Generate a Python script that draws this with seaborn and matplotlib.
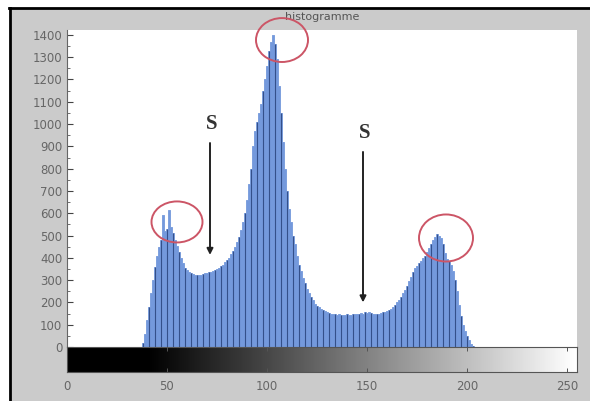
import numpy as np
import pandas as pd
import matplotlib
matplotlib.use("Agg")
import matplotlib.pyplot as plt
from matplotlib.patches import Ellipse, Rectangle
from matplotlib.lines import Line2D
import seaborn as sns

# ---- data ----
levels = list(range(38, 204))
counts = [
    20, 60, 120, 180, 240, 300, 360, 410, 450, 480,          # 38-47
    590, 520, 530, 615, 540, 510, 480, 455, 425, 400,        # 48-57
    375, 355, 345, 335, 330, 328, 325, 325, 322, 325,        # 58-67
    328, 330, 332, 335, 338, 342, 345, 350, 355, 362,        # 68-77
    370, 380, 390, 400, 415, 430, 450, 470, 495, 525,        # 78-87
    560, 600, 660, 730, 800, 900, 970, 1010, 1050, 1090,     # 88-97
    1150, 1200, 1260, 1330, 1370, 1400, 1360, 1290, 1170, 1050,  # 98-107
    920, 800, 700, 620, 560, 500, 460, 410, 370, 340,        # 108-117
    310, 285, 260, 240, 225, 210, 195, 185, 178, 170,        # 118-127
    165, 160, 155, 152, 150, 148, 146, 145, 146, 144,        # 128-137
    145, 142, 146, 144, 145, 148, 146, 150, 148, 152,        # 138-147
    150, 155, 153, 156, 152, 150, 148, 150, 148, 152,        # 148-157
    155, 158, 160, 165, 172, 180, 190, 200, 210, 225,        # 158-167
    240, 255, 275, 295, 315, 335, 355, 365, 378, 388,        # 168-177
    398, 410, 425, 445, 460, 478, 492, 505, 500, 488,        # 178-187
    460, 420, 395, 385, 370, 340, 300, 250, 190, 140,        # 188-197
    100, 70, 50, 30, 15, 5,                                  # 198-203
]
yticks = list(range(0, 1401, 100))
xticks = [0, 50, 100, 150, 200, 250]
title = "histogramme"
arrow_labels = ["S", "S"]
arrow_x = [71.5, 148]
arrow_top = [915, 875]
arrow_bottom = [413, 200]
circle_x = [55, 107.5, 189.5]
circle_y = [561, 1377, 489]

df = pd.DataFrame({"level": levels, "count": counts})

W, H = 590, 401
fig = plt.figure(figsize=(W / 100, H / 100), dpi=100)
fig.patch.set_facecolor("white")

# screenshot frame: gray panel with black top/left border
fig.patches.append(Rectangle((10 / W, 0), 1, 1 - 8 / H, transform=fig.transFigure,
                             facecolor="#cbcbcb", edgecolor="none", zorder=-10))
fig.lines.append(Line2D([9 / W, 1], [1 - 8 / H, 1 - 8 / H], transform=fig.transFigure,
                        color="black", lw=2))
fig.lines.append(Line2D([10 / W, 10 / W], [0, 1 - 8 / H], transform=fig.transFigure,
                        color="black", lw=2))

left, right = 67 / W, 577 / W
ax = fig.add_axes([left, 1 - 347 / H, right - left, (347 - 30) / H])
ax2 = fig.add_axes([left, 1 - 372 / H, right - left, 25 / H])

ax.set_facecolor("white")
sns.histplot(data=df, x="level", weights="count", discrete=True, ax=ax,
             element="step", fill=True, color="#7499dc", alpha=1.0,
             linewidth=0.6, edgecolor="#7499dc")
sub = df.iloc[::3]
ax.vlines(sub["level"], 0, sub["count"], color="#34508a", lw=0.8)

ax.set_xlim(0, 255)
ax.set_ylim(0, 1422)
ax.set_xlabel("")
ax.set_ylabel("")
ax.set_xticks([])
ax.set_yticks(yticks)
ax.set_yticks(np.arange(50, 1422, 100), minor=True)
ax.tick_params(axis="y", which="major", direction="in", length=4, width=0.8,
               colors="#444", labelcolor="#666", labelsize=8.5)
ax.tick_params(axis="y", which="minor", direction="in", length=2, width=0.6, colors="#555")
for s in ["top", "right", "bottom"]:
    ax.spines[s].set_visible(False)
ax.spines["left"].set_color("#666")
ax.spines["left"].set_linewidth(0.8)
ax.set_title(title, fontsize=8, color="#555", pad=7)

# arrows with S labels
for lbl, x, yt, yb in zip(arrow_labels, arrow_x, arrow_top, arrow_bottom):
    ax.annotate("", xy=(x, yb), xytext=(x, yt),
                arrowprops=dict(arrowstyle="-|>", color="#222", lw=1.4,
                                mutation_scale=9, shrinkA=0, shrinkB=0))
    ax.text(x + 0.8, yt + 40, lbl, ha="center", va="bottom", fontsize=15,
            family="Liberation Serif", fontweight="bold", color="#333")

# red ellipses
for cx, cy, w, h in zip(circle_x, circle_y, [25.5, 26, 27], [184, 197, 211]):
    e = Ellipse((cx, cy), w, h, facecolor="none", edgecolor="#cc5566", lw=1.4,
                clip_on=False, zorder=5)
    ax.add_patch(e)

# gradient bar
grad = np.arange(256)[None, :]
ax2.imshow(grad, cmap="gray", aspect="auto", extent=[0, 255, 0, 1],
           vmin=40, vmax=255, interpolation="bilinear")
ax2.set_xlim(0, 255)
ax2.set_ylim(0, 1)
ax2.set_yticks([])
ax2.set_xticks(xticks)
ax2.tick_params(axis="x", direction="in", length=3, width=0.7, top=True,
                colors="#555", labelcolor="#666", labelsize=8.5, pad=6)
for s in ax2.spines.values():
    s.set_color("#555")
    s.set_linewidth(0.8)

fig.savefig("out.png", dpi=100, facecolor=fig.get_facecolor())
